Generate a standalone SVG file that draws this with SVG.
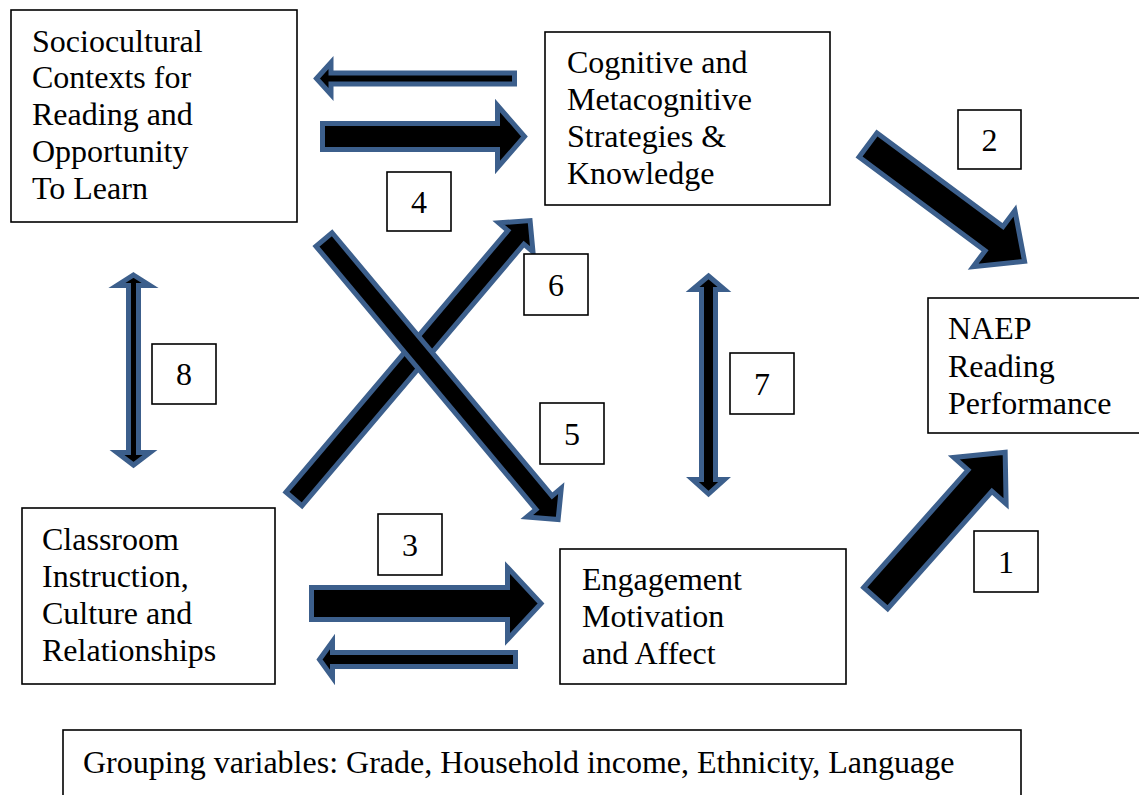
<svg xmlns="http://www.w3.org/2000/svg" width="1139" height="795" viewBox="0 0 1139 795">
<style>
.box{fill:#fff;stroke:#000;stroke-width:1.6}
.t{font-family:"Liberation Serif","Times New Roman",serif;font-size:32px;fill:#000}
.n{font-family:"Liberation Serif","Times New Roman",serif;font-size:32px;fill:#000;text-anchor:middle}
.arr{fill:#000;stroke:#3c5f8c;stroke-width:5;stroke-linejoin:miter;stroke-miterlimit:10}
</style>
<rect width="1139" height="795" fill="#fff"/>
<g id="connectors">
<polygon class="arr" points="316.5,78.5 331,62.5 331,73 514.5,73 514.5,84 331,84 331,94.5"/>
<polygon class="arr" points="322.5,123.5 497.5,123.5 497.5,105.5 524.5,136.5 497.5,167.5 497.5,149.5 322.5,149.5"/>
<polygon class="arr" transform="translate(868,145) rotate(36.6)" points="0,-15 157,-15 157,-35 195,0 157,35 157,15 0,15"/>
<polygon class="arr" transform="translate(875.7,598.1) rotate(-48.4)" points="0,-16 157,-16 157,-35 195,0 157,35 157,16 0,16"/>
<polygon class="arr" transform="translate(294,499) rotate(-49.7)" points="0,-10.5 343,-10.5 343,-22.5 365,0 343,22.5 343,10.5 0,10.5"/>
<polygon class="arr" transform="translate(324,239.5) rotate(50.1)" points="0,-10.5 343,-10.5 343,-22.5 365,0 343,22.5 343,10.5 0,10.5"/>
<polygon class="arr" points="133.5,275 150,285.5 138.5,285.5 138.5,452.5 150,452.5 133.5,465 117,452.5 128.5,452.5 128.5,285.5 117,285.5"/>
<polygon class="arr" points="708.5,276 724.5,289.5 715.5,289.5 715.5,479.5 724.5,479.5 708.5,494 692.5,479.5 701.5,479.5 701.5,289.5 692.5,289.5"/>
<polygon class="arr" points="311.5,587.5 507.5,587.5 507.5,567.5 541,603.5 507.5,639.5 507.5,619.5 311.5,619.5"/>
<polygon class="arr" points="319.5,659.5 332.5,641.5 332.5,652.5 515.5,652.5 515.5,666.5 332.5,666.5 332.5,677.5"/>
</g>
<g id="sociocultural">
<rect class="box" x="11" y="10" width="286" height="212"/>
<text class="t" x="32" y="52">Sociocultural</text>
<text class="t" x="32" y="88">Contexts for</text>
<text class="t" x="32" y="125">Reading and</text>
<text class="t" x="32" y="162">Opportunity</text>
<text class="t" x="32" y="199">To Learn</text>
</g>
<g id="cognitive">
<rect class="box" x="545" y="32" width="285" height="173"/>
<text class="t" x="567" y="73">Cognitive and</text>
<text class="t" x="567" y="110">Metacognitive</text>
<text class="t" x="567" y="147">Strategies &amp;</text>
<text class="t" x="567" y="184">Knowledge</text>
</g>
<g id="naep">
<rect class="box" x="928" y="298" width="212" height="135"/>
<text class="t" x="948" y="339">NAEP</text>
<text class="t" x="948" y="377">Reading</text>
<text class="t" x="948" y="414">Performance</text>
</g>
<g id="classroom">
<rect class="box" x="22" y="508" width="253" height="176"/>
<text class="t" x="42" y="550">Classroom</text>
<text class="t" x="42" y="587">Instruction,</text>
<text class="t" x="42" y="624">Culture and</text>
<text class="t" x="42" y="661">Relationships</text>
</g>
<g id="engagement">
<rect class="box" x="560" y="549" width="286" height="135"/>
<text class="t" x="582" y="590">Engagement</text>
<text class="t" x="582" y="627">Motivation</text>
<text class="t" x="582" y="664">and Affect</text>
</g>
<g id="grouping">
<rect class="box" x="63" y="730" width="958" height="80"/>
<text class="t" x="83" y="773">Grouping variables: Grade, Household income, Ethnicity, Language</text>
</g>
<g id="label1"><rect class="box" x="974" y="531" width="64" height="61"/><text class="n" x="1006" y="573">1</text></g>
<g id="label2"><rect class="box" x="958" y="110" width="63" height="59"/><text class="n" x="989.5" y="151">2</text></g>
<g id="label3"><rect class="box" x="378" y="514" width="64" height="61"/><text class="n" x="410" y="556">3</text></g>
<g id="label4"><rect class="box" x="387" y="172" width="64" height="59"/><text class="n" x="419" y="213">4</text></g>
<g id="label5"><rect class="box" x="540" y="403" width="64" height="61"/><text class="n" x="572" y="445">5</text></g>
<g id="label6"><rect class="box" x="524" y="254" width="64" height="61"/><text class="n" x="556" y="296">6</text></g>
<g id="label7"><rect class="box" x="730" y="353" width="64" height="61"/><text class="n" x="762" y="395">7</text></g>
<g id="label8"><rect class="box" x="152" y="344" width="64" height="60"/><text class="n" x="184" y="385">8</text></g>
</svg>
